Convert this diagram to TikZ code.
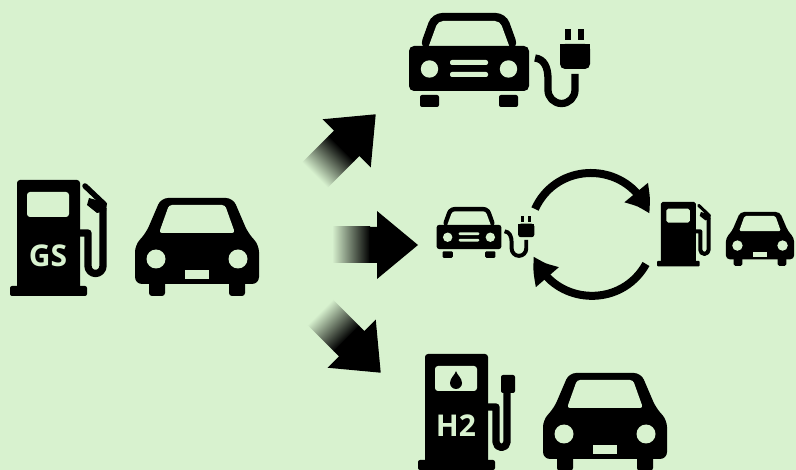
\documentclass[tikz,border=0pt]{standalone}
\usepackage{fontspec}
\setsansfont{Open Sans}
\usetikzlibrary{arrows.meta,bending}
\definecolor{pagegreen}{HTML}{D8F2CF}
\def\sz{1}
% parts shared by the pumps
\def\pumpbody{
    \fill[rounded corners=3pt*\sz] (7,0) rectangle (70,110);
    \fill[rounded corners=2pt*\sz] (0,106) rectangle (77,116);
    \fill[hole,rounded corners=3pt*\sz] (17,12) rectangle (59,37);
}
\def\pumpnozzle{
    \draw[hose] (68,53) -- (78,53) -- (78,86) arc[start angle=180,end angle=0,radius=7.5] -- (93,28);
    \draw[hose,line width=5.5pt*\sz,line cap=round] (75,6) -- (94,24);
    \fill (79,18) -- (77,25) -- (87,33) -- (96,31) -- (97,23) -- cycle;
}
\tikzset{
    iconsize/.code={\def\sz{#1}\pgfkeysalso{scale=#1}},
    hole/.style={fill=pagegreen},
    hose/.style={draw=black,line width=7.3pt*\sz,line join=round},
    pumptag/.style={text=pagegreen,inner sep=0pt,font=\sffamily\bfseries\fontsize{30}{30}\selectfont},
    fadeshaft/.style={left color=pagegreen,middle color=black!62!pagegreen,right color=black,shading=axis},
    cyclearrow/.style={draw=black,line width=8pt,-{Triangle[length=26pt,width=28pt,bend]}},
    % front view of a car
    car/.pic={
        \fill[rounded corners=7pt*\sz] (-36,0) -- (36,0) -- (51,35) -- (62,47) -- (62,86) -- (-62,86) -- (-62,47) -- (-51,35) -- cycle;
        \foreach \s in {-1,1} {
            \fill[rounded corners=3pt*\sz] (\s*48,78) rectangle (\s*32,98);
            \fill[hole] (\s*41,61) circle (9.5);
        }
        \fill[hole,rounded corners=3pt*\sz] (-28,7) -- (28,7) -- (38,35) -- (-38,35) -- cycle;
        \fill[hole] (-12,72) rectangle (12,81);
    },
    % car with charging plug
    evcar/.pic={
        \fill[rounded corners=10pt*\sz] (-37,0) -- (37,0) -- (50,36) -- (-50,36) -- cycle;
        \fill[hole,rounded corners=5pt*\sz] (-31,8) -- (31,8) -- (42,38) -- (-42,38) -- cycle;
        \fill[rounded corners=5pt*\sz] (-60,33) rectangle (60,78);
        \foreach \s in {-1,1} {
            \fill[rounded corners=2pt*\sz] (\s*49,82) rectangle (\s*30,94);
            \fill[hole] (\s*39.5,56) circle (8.7);
        }
        \fill[hole,rounded corners=2pt*\sz] (-19,47) rectangle (19,52);
        \fill[hole,rounded corners=2pt*\sz] (-19,59) rectangle (19,64);
        % cable and plug
        \draw[hose,line cap=butt] (66,45) .. controls (75,46) and (79,54) .. (79,66) -- (79,77)
            arc[start angle=180,end angle=0,radius=13.5] -- (106,61);
        \fill[rounded corners=5pt*\sz] (91,31) -- (121,31) -- (121,56) -- (91,56) -- cycle;
        \fill (91,31) rectangle (121,42);
        \fill (96,16) rectangle (102,27);
        \fill (109,16) rectangle (115,27);
    },
    % pump with nozzle
    pump/.pic={
        \pumpbody
        \pumpnozzle
    },
    gspump/.pic={
        \pumpbody
        \pumpnozzle
        \node[pumptag] (-tag) at (38,76) {GS};
    },
    hpump/.pic={
        \pumpbody
        \draw[hose] (68,53) -- (78,53) -- (78,88) arc[start angle=180,end angle=0,radius=5.5] -- (89,36);
        \fill[rounded corners=2pt] (83,21) rectangle (97,39);
        \fill (38,17) .. controls (39,21) and (44,24) .. (44,29) arc[start angle=0,end angle=180,radius=6] .. controls (32,24) and (37,21) .. (38,17);
        \node[pumptag] (-tag) at (38,72) {H2};
    },
    % arrow that fades out towards its tail
    fadearrow/.pic={
        \shade[fadeshaft] (0,-18) rectangle (38,18);
        \fill (37.5,-18) -- (45,-18) -- (45,-34) -- (86,0) -- (45,34) -- (45,18) -- (37.5,18) -- cycle;
    }
}
\begin{document}
\begin{tikzpicture}[x=1pt,y=-1pt]

    % Background
    \fill[pagegreen] (0,0) rectangle (796,470);
    \useasboundingbox (0,0) rectangle (796,470);
    \clip (0,0) rectangle (796,470);

    % Today
    \pic (gs) at (10,180) {gspump};
    \pic (gscar) at (197,198) {car};

    % Three ways forward
    \coordinate (fadetop) at (314.9,175.1);
    \coordinate (fademid) at (332,245);
    \coordinate (fadelow) at (319.9,311.9);
    \begin{scope}[transform canvas={shift={(fadetop)},rotate=45}]
        \pic {fadearrow};
    \end{scope}
    \begin{scope}[transform canvas={shift={(fademid)}}]
        \pic {fadearrow};
    \end{scope}
    \begin{scope}[transform canvas={shift={(fadelow)},rotate=-45}]
        \pic {fadearrow};
    \end{scope}

    % Plug-in car
    \pic (evbig) at (469,13) {evcar};

    % Both in turn
    \pic[iconsize=0.54] (evsmall) at (469,207) {evcar};
    \pic[iconsize=0.555] (pumpsmall) at (657,202) {pump};
    \pic[iconsize=0.55] (carsmall) at (760,212) {car};
    \coordinate (evout) at (535,209);
    \coordinate (pumpin) at (649,214);
    \coordinate (pumpout) at (646,264);
    \coordinate (evin) at (534,256);
    \draw[cyclearrow] (evout) to[bend left=68,looseness=1.24] (pumpin);
    \draw[cyclearrow] (pumpout) to[bend left=65,looseness=1.2] (evin);

    % Hydrogen
    \pic (h2) at (418,354) {hpump};
    \pic (h2car) at (605,373) {car};

\end{tikzpicture}
\end{document}
